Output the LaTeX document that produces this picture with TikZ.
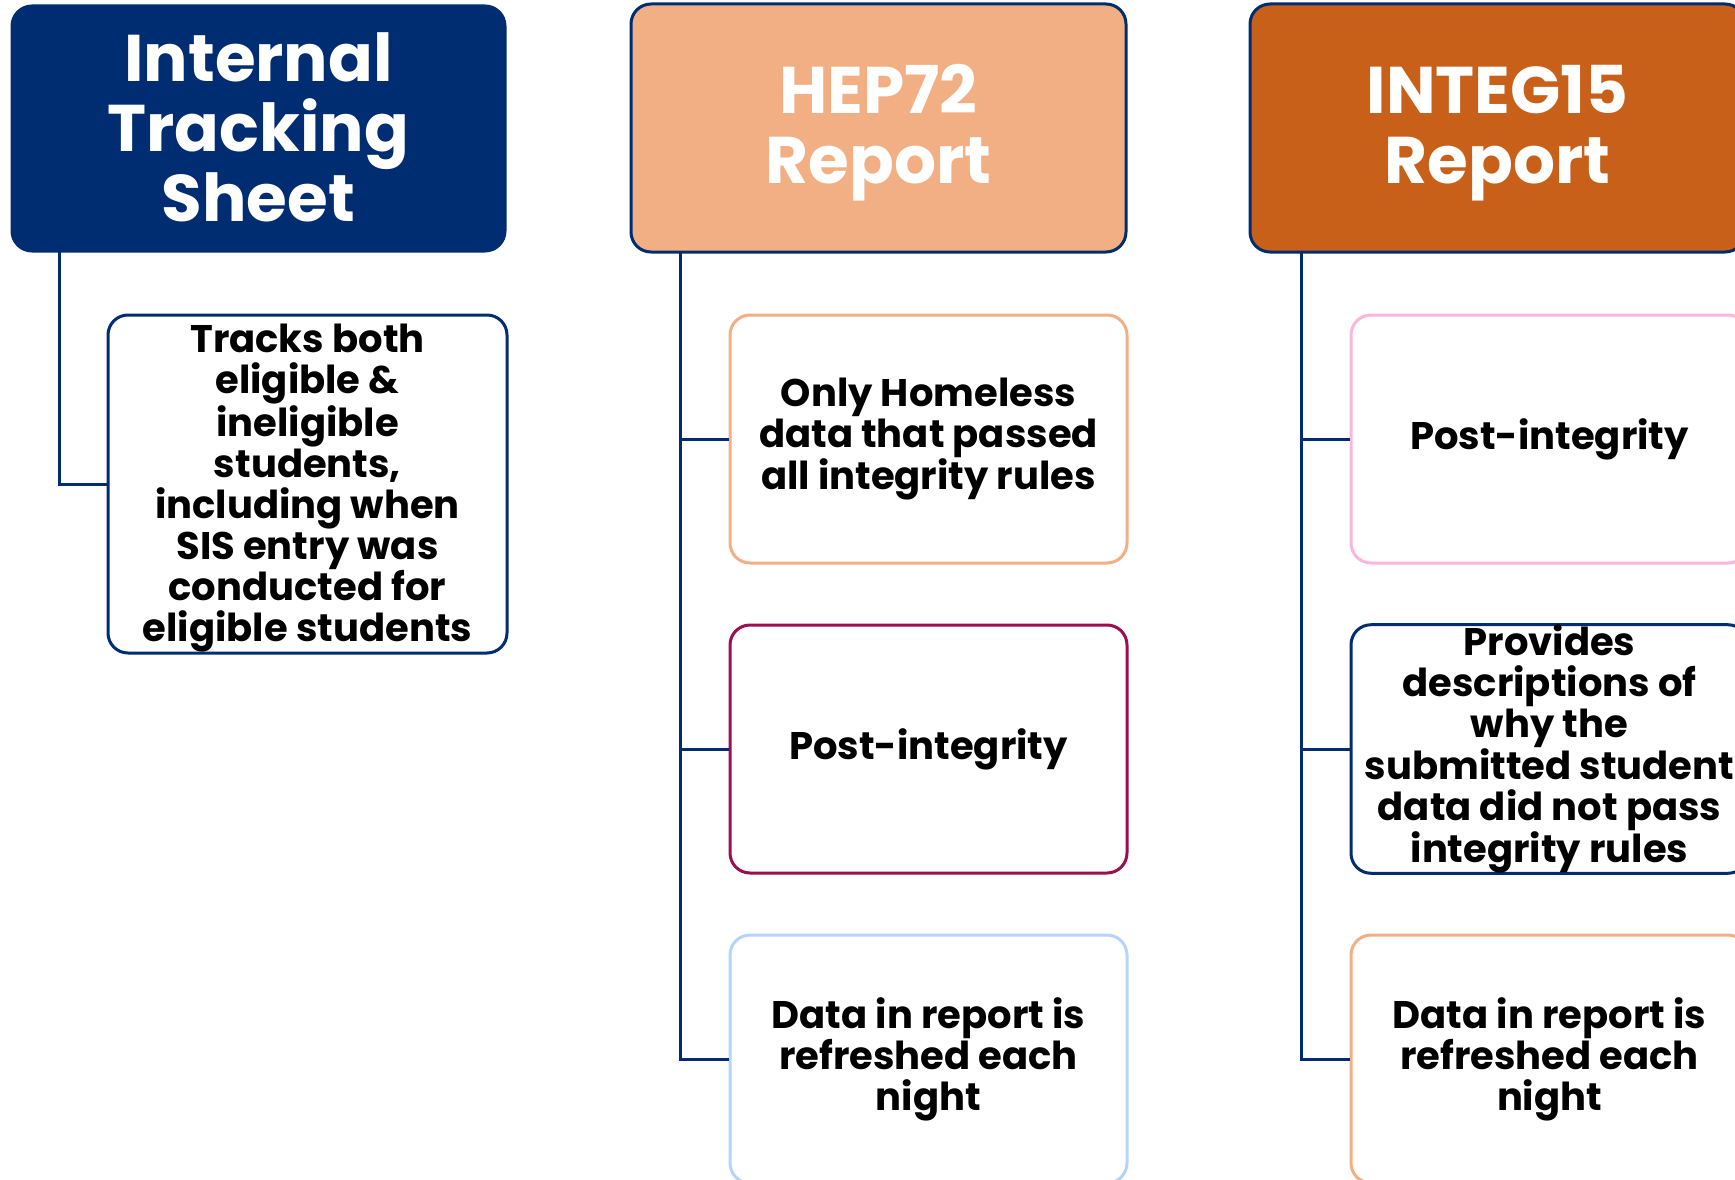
\documentclass[tikz,border=0pt]{standalone}
\usepackage{fontspec}
\setmainfont{Poppins}
\definecolor{navy}{HTML}{002D72}
\definecolor{salmon}{HTML}{F2AF84}
\definecolor{burnt}{HTML}{C9601A}
\definecolor{maroon}{HTML}{9B0E4F}
\definecolor{lightblue}{HTML}{B5D4F9}
\definecolor{pinkish}{HTML}{FBB6DB}
\begin{document}
\begin{tikzpicture}[x=1pt,y=-1pt,
  hdr/.style={draw=navy,line width=3pt,rounded corners=20pt,inner sep=0pt},
  hdrtext/.style={inner sep=0pt,text=white,align=center,font=\fontsize{66}{70}\selectfont\bfseries},
  child/.style={draw=#1,fill=white,line width=3pt,rounded corners=20pt,inner sep=0pt,
    minimum width=397pt,minimum height=248pt,align=center,
    font=\fontsize{38.5}{41}\selectfont\bfseries},
  childtext/.style={inner sep=0pt,align=center,font=\fontsize{38.5}{41}\selectfont\bfseries},
  link/.style={draw=navy,line width=3pt}]
\useasboundingbox (0,0) rectangle (1735,1180);
\clip (0,0) rectangle (1735,1180);
% headers
\node[hdr,fill=navy,minimum width=493pt,minimum height=245pt] (h1) at (258.5,128.5) {};
\node[hdrtext] (h1t) at ([yshift=1pt]h1.center) {Internal\\Tracking\\Sheet};
\node[hdr,fill=salmon,minimum width=495pt,minimum height=248pt] (h2) at (878.5,128) {};
\node[hdrtext] (h2t) at ([yshift=-5pt]h2.center) {HEP72\\Report};
\node[hdr,fill=burnt,minimum width=495pt,minimum height=248pt] (h3) at (1497.5,128) {};
\node[hdrtext] (h3t) at ([yshift=-5pt]h3.center) {INTEG15\\Report};
% column 1
\node[child=navy,minimum width=399pt,minimum height=338pt] (a1) at (307.5,484) {};
\node[childtext] (a1t) at ([yshift=-4pt]a1.center)
  {Tracks both\\eligible \&\\ineligible\\students,\\including when\\SIS entry was\\conducted for\\eligible students};
% column 2
\node[child=salmon] (b1) at (928.5,439) {Only Homeless\\data that passed\\all integrity rules};
\node[child=maroon] (b2) at (928.5,749) {Post-integrity};
\node[child=lightblue] (b3) at (928.5,1059) {Data in report is\\refreshed each\\night};
% column 3
\node[child=pinkish] (c1) at (1549.5,439) {Post-integrity};
\node[child=navy] (c2) at (1549.5,749) {Provides\\descriptions of\\why the\\submitted student\\data did not pass\\integrity rules};
\node[child=salmon] (c3) at (1549.5,1059) {Data in report is\\refreshed each\\night};
% connectors
\coordinate (t1) at (59,251);
\coordinate (t2) at (680,252);
\coordinate (t3) at (1301,252);
\draw[link] (t1) |- (a1.west);
\draw[link] (t2) |- (b3.west);
\draw[link] (t2 |- b1.west) -- (b1.west);
\draw[link] (t2 |- b2.west) -- (b2.west);
\draw[link] (t3) |- (c3.west);
\draw[link] (t3 |- c1.west) -- (c1.west);
\draw[link] (t3 |- c2.west) -- (c2.west);
\end{tikzpicture}
\end{document}
